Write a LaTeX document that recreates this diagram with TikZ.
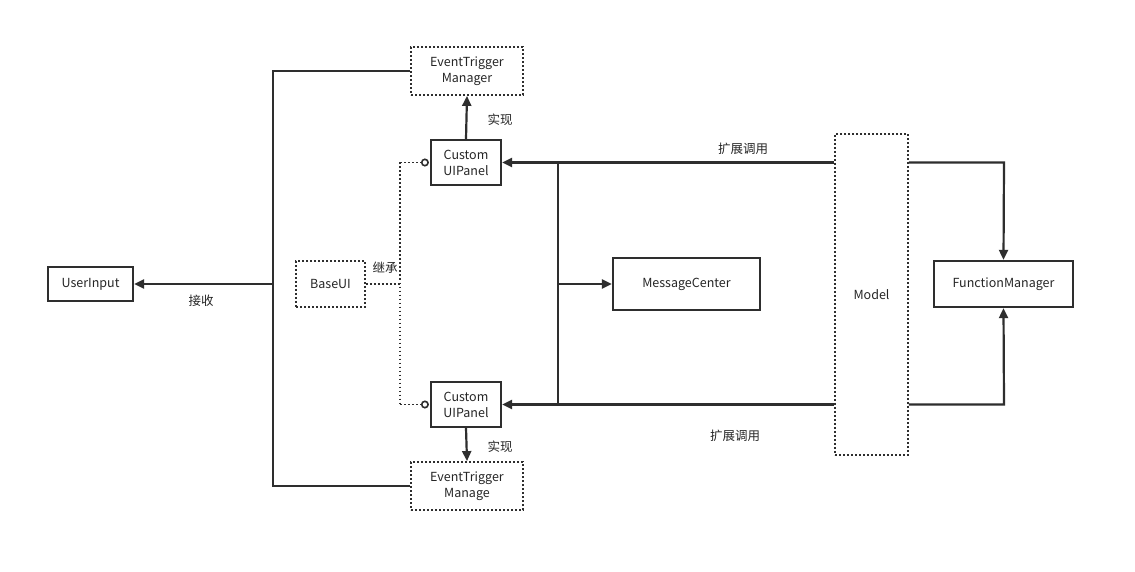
\documentclass[tikz,border=0pt]{standalone}
\usepackage{fontspec}
\setmainfont{Noto Sans CJK SC}
\usetikzlibrary{arrows.meta}
\definecolor{ln}{HTML}{2E2E2E}
\begin{document}
\begin{tikzpicture}[x=1pt,y=-1pt,
  font=\fontsize{12.5}{16}\selectfont,
  solidbox/.style={draw=ln,line width=2.2pt,inner sep=0pt,align=center,text=black!85},
  dotbox/.style={draw=ln,line width=1.8pt,dash pattern=on 1.8pt off 2.2pt,inner sep=0pt,align=center,text=black!85},
  dotline/.style={draw=ln,line width=1.8pt,dash pattern=on 1.8pt off 2.2pt},
  conn/.style={draw=ln,line width=2.2pt},
  arr/.style={conn,-{Triangle[length=10pt,width=9pt]}},
  lbl/.style={inner sep=0pt,text=black!85}]
\useasboundingbox (0,0) rectangle (1135,572);
\fill[white] (0,0) rectangle (1135,572);
% nodes
\node[dotbox,minimum width=112pt,minimum height=48pt] (etm1) at (467,71) {EventTrigger\\Manager};
\node[solidbox,minimum width=70pt,minimum height=45pt] (cup1) at (466,162.5) {Custom\\UIPanel};
\node[solidbox,minimum width=70pt,minimum height=45pt] (cup2) at (466,404.5) {Custom\\UIPanel};
\node[dotbox,minimum width=112pt,minimum height=48pt] (etm2) at (467,486) {EventTrigger\\Manage};
\node[solidbox,minimum width=85pt,minimum height=34pt] (ui) at (90.5,284) {UserInput};
\node[dotbox,minimum width=69pt,minimum height=46pt] (base) at (330.5,284) {BaseUI};
\node[solidbox,minimum width=147pt,minimum height=52pt] (mc) at (686.5,284) {MessageCenter};
\node[dotbox,minimum width=73pt,minimum height=321pt] (model) at (871.5,294.5) {Model};
\node[solidbox,minimum width=139pt,minimum height=46pt] (fm) at (1003.5,284) {FunctionManager};
% coordinates
\coordinate (lx1) at (273,71);
\coordinate (lx2) at (273,486);
\coordinate (lxm) at (273,284);
\coordinate (dx1) at (400,162.5);
\coordinate (dx2) at (400,404.5);
\coordinate (dxm) at (400,284);
\coordinate (vx1) at (558,162.5);
\coordinate (vx2) at (558,404.5);
\coordinate (vxm) at (558,284);
\coordinate (fx1) at (1004,162.5);
\coordinate (fx2) at (1004,404.5);
% left bus
\draw[conn] (etm1.west) -- (lx1) -- (lx2) -- (etm2.west);
\draw[arr] (lxm) -- (ui.east);
\node[lbl] (l1) at (201,301) {接收};
% realize arrows
\draw[arr] (cup1.north) -- (etm1.south);
\draw[arr] (cup2.south) -- (etm2.north);
\node[lbl] (l2) at (500,120) {实现};
\node[lbl] (l3) at (500,447) {实现};
% inheritance dotted
\draw[dotline] (base.east) -- (dxm);
\draw[dotline] (dx1) -- (dx2);
\draw[dotline,-{Circle[open,length=8pt,width=8pt,line width=1.6pt,sep=1pt]}] (dx1) -- (cup1.west);
\draw[dotline,-{Circle[open,length=8pt,width=8pt,line width=1.6pt,sep=1pt]}] (dx2) -- (cup2.west);
\node[lbl] (l4) at (385,268) {继承};
% model connections
\draw[arr] (model.west |- cup1.east) -- (cup1.east);
\draw[arr] (model.west |- cup2.east) -- (cup2.east);
\node[lbl] (l5) at (743,149) {扩展调用};
\node[lbl] (l6) at (735,436) {扩展调用};
\draw[conn] (vx1) -- (vx2);
\draw[arr] (vxm) -- (mc.west);
\draw[arr] (model.east |- fx1) -- (fx1) -- (fm.north);
\draw[arr] (model.east |- fx2) -- (fx2) -- (fm.south);
\end{tikzpicture}
\end{document}
